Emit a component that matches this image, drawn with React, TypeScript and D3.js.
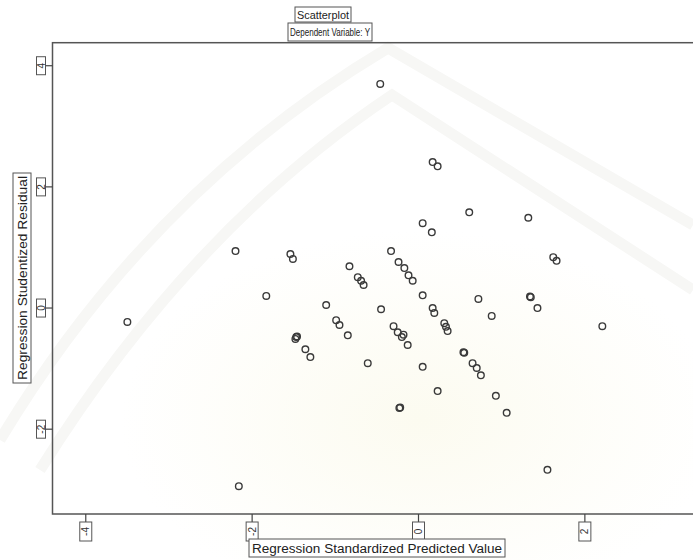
import React from "react";
import * as d3 from "d3";

const W = 693;
const H = 560;

// Regression Standardized Predicted Value (x) vs Regression Studentized Residual (y)
const predicted = [
  -0.46, 0.17, 0.23, 0.61, 0.05, 0.16, 1.32, -2.2, -1.54, -1.51, -0.33, -0.83,
  -0.73, -0.69, -0.66, -0.24, -0.17, -0.12, -0.07, 1.62, 1.66, -1.83, -1.11,
  -0.45, 0.05, 0.72, 1.35, 1.43, 0.17, 0.19, 0.88, 0.31, 0.35, 2.21, -0.3,
  -0.25, -0.2, -0.13, -0.99, -0.95, -0.85, -3.5, -1.47, -1.48, -1.36, -1.3,
  -0.61, 0.05, 0.54, 0.65, 0.7, 0.75, 0.23, 0.93, -0.23, 1.06, 1.55, -2.16,
  -0.22, 0.55, 1.34, -1.46, -0.18, 0.33,
];
const residual = [
  3.7, 2.41, 2.34, 1.58, 1.4, 1.25, 1.49, 0.94, 0.89, 0.81, 0.94, 0.69, 0.51,
  0.45, 0.38, 0.76, 0.66, 0.54, 0.45, 0.84, 0.78, 0.2, 0.05, -0.02, 0.21, 0.15,
  0.18, 0.0, 0.0, -0.08, -0.13, -0.25, -0.38, -0.3, -0.3, -0.4, -0.48, -0.61,
  -0.2, -0.28, -0.45, -0.23, -0.48, -0.51, -0.68, -0.81, -0.91, -0.97, -0.73,
  -0.91, -0.99, -1.11, -1.37, -1.45, -1.65, -1.73, -2.67, -2.94, -1.64, -0.74,
  0.19, -0.47, -0.44, -0.31,
];

const xTicks = [-4, -2, 0, 2];
const yTicks = [-2, 0, 2, 4];

const titleLines = ["Scatterplot", "Dependent Variable: Y"];
const xTitle = "Regression Standardized Predicted Value";
const yTitle = "Regression Studentized Residual";

const FONT = "'Liberation Sans', Arial, sans-serif";

export default function App() {
  const x = d3.scaleLinear().domain([-4.4, 3.3]).range([52.5, 693]);
  const y = d3.scaleLinear().domain([-3.4, 4.38]).range([514, 42.7]);
  const left = x(-4.4);
  const top = y(4.38);
  const bottom = y(-3.4);
  const points = predicted.map((p, i) => [p, residual[i]]);
  const ink = "#3a3a3a";

  return (
    <svg
      width={W}
      height={H}
      style={{ position: "absolute", left: 0, top: 0, background: "#fff" }}
    >
      <defs>
        <radialGradient id="tint" cx="0.5" cy="0.5" r="0.5">
          <stop offset="0" stopColor="#fcfbf0" />
          <stop offset="1" stopColor="#ffffff" />
        </radialGradient>
      </defs>
      <rect x={0} y={0} width={W} height={H} fill="#ffffff" />
      {/* faint watermark */}
      <ellipse cx={420} cy={420} rx={300} ry={190} fill="url(#tint)" />
      <g fill="none" stroke="#f7f7f5" strokeWidth={11}>
        <path d="M0,440 Q150,190 388,48 L693,225" />
        <path d="M40,470 Q190,230 392,95 L693,290" />
      </g>
      {/* frame */}
      <rect
        x={left}
        y={top}
        width={W + 20 - left}
        height={bottom - top}
        fill="none"
        stroke="#555"
        strokeWidth={1.5}
      />
      {/* y ticks */}
      {yTicks.map((t) => (
        <g key={"y" + t}>
          <line x1={left - 7} x2={left} y1={y(t)} y2={y(t)} stroke="#444" strokeWidth={1.2} />
          <rect x={36.5} y={y(t) - 9} width={9} height={18} fill="#fff" stroke="#555" strokeWidth={1} />
          <text
            transform={`translate(${41},${y(t)}) rotate(-90)`}
            textAnchor="middle"
            dy="0.35em"
            fontFamily={FONT}
            fontSize={10}
            fill="#333"
          >
            {t}
          </text>
        </g>
      ))}
      {/* x ticks */}
      {xTicks.map((t) => (
        <g key={"x" + t}>
          <line x1={x(t)} x2={x(t)} y1={bottom} y2={bottom + 8} stroke="#444" strokeWidth={1.2} />
          <rect x={x(t) - 6} y={bottom + 8} width={12} height={19} fill="#fff" stroke="#555" strokeWidth={1} />
          <text
            transform={`translate(${x(t)},${bottom + 17.5}) rotate(-90)`}
            textAnchor="middle"
            dy="0.35em"
            fontFamily={FONT}
            fontSize={10}
            fill="#333"
          >
            {t}
          </text>
        </g>
      ))}
      {/* points */}
      {points.map((d, i) => (
        <circle
          key={i}
          cx={x(d[0])}
          cy={y(d[1])}
          r={3.3}
          fill="none"
          stroke={ink}
          strokeWidth={1.4}
        />
      ))}
      {/* titles */}
      <rect x={323 - 28} y={7} width={56} height={15} fill="#fff" stroke="#555" strokeWidth={1} />
      <text x={323} y={18.5} textAnchor="middle" fontFamily={FONT} fontSize={11} fill="#222"
        textLength={52} lengthAdjust="spacingAndGlyphs">
        {titleLines[0]}
      </text>
      <rect x={330 - 42} y={23} width={84} height={18} fill="#fff" stroke="#555" strokeWidth={1} />
      <text x={330} y={36} textAnchor="middle" fontFamily={FONT} fontSize={11} fill="#222"
        textLength={80} lengthAdjust="spacingAndGlyphs">
        {titleLines[1]}
      </text>
      {/* x title */}
      <rect x={249} y={539} width={256} height={18} fill="#fff" stroke="#555" strokeWidth={1} />
      <text x={377} y={552.5} textAnchor="middle" fontFamily={FONT} fontSize={12} fill="#222"
        textLength={250} lengthAdjust="spacingAndGlyphs">
        {xTitle}
      </text>
      {/* y title */}
      <rect x={13} y={173} width={18} height={210} fill="#fff" stroke="#555" strokeWidth={1} />
      <text transform={`translate(26.5,278) rotate(-90)`} textAnchor="middle" fontFamily={FONT}
        fontSize={12} fill="#222" textLength={204} lengthAdjust="spacingAndGlyphs">
        {yTitle}
      </text>
    </svg>
  );
}
